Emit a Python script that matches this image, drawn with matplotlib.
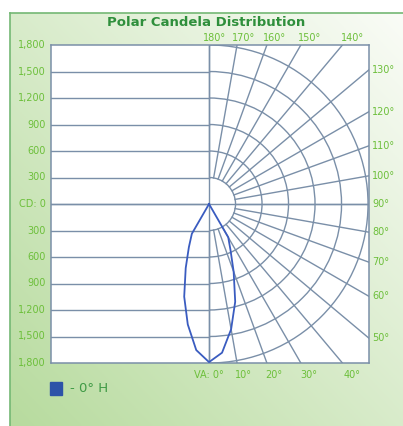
import numpy as np
import matplotlib
matplotlib.use('Agg')
import matplotlib.pyplot as plt
import matplotlib.patches as patches

# candela values per vertical angle (VA, 0 = nadir)
angles = [0, 5, 10, 15, 20, 25, 30, 35, 40, 45, 50, 55, 60, 65, 70, 75, 80, 85, 90]
cd_0h = [1790, 1690, 1440, 1145, 815, 575, 435, 0, 0, 0, 0, 0, 0, 0, 0, 0, 0, 0, 0]
cd_180h = [1790, 1660, 1385, 1086, 772, 540, 389, 0, 0, 0, 0, 0, 0, 0, 0, 0, 0, 0, 0]

cd_ticks = [1800, 1500, 1200, 900, 600, 300, 0, -300, -600, -900, -1200, -1500, -1800]
cd_labels = ['1,800', '1,500', '1,200', '900', '600', '300', 'CD: 0',
             '300', '600', '900', '1,200', '1,500', '1,800']
grid_angles = [0, 10, 20, 30, 40, 50, 60, 70, 80, 90, 100, 110, 120, 130, 140, 150, 160, 170, 180]
arc_radii = [600, 900, 1200, 1500, 1800]
series_name = '- 0° H'
title = 'Polar Candela Distribution'

W, H = 403, 426
grid_c = '#7a8fa8'
tick_c = '#6cbf3a'
line_c = '#3a5cc0'

fig = plt.figure(figsize=(W / 100, H / 100), dpi=100)
fig.patch.set_facecolor('white')

# background panel with diagonal green -> white gradient
bg = fig.add_axes([0, 0, 1, 1])
bg.set_xlim(0, W)
bg.set_ylim(H, 0)
bg.axis('off')
xx, yy = np.meshgrid(np.linspace(0, 1, 200), np.linspace(1, 0, 200))
t = np.clip((xx + yy) / 2, 0, 1)[..., None]
green = np.array([183, 219, 158]) / 255
white = np.array([250, 252, 247]) / 255
bg.imshow(green * (1 - t) + white * t, extent=(10, W, H, 13), aspect='auto')
bg.plot([10, 10], [13, H], color='#74b874', lw=1.2)
bg.plot([10, W], [13, 13], color='#74b874', lw=1.2)
bg.set_xlim(0, W)
bg.set_ylim(H, 0)

bg.text(206, 22, title, ha='center', va='center', fontsize=9.5,
        fontweight='bold', color='#2f8f3c')

# legend
bg.add_patch(patches.Rectangle((50, 382), 12, 13, color='#2d53a8'))
bg.text(70, 389, series_name, ha='left', va='center', fontsize=9.5, color='#3f9a45')

# main plot
ax = fig.add_axes([51 / W, 63 / H, 318 / W, 318 / H])
ax.set_facecolor('white')
ax.set_xlim(-1789, 1811)
ax.set_ylim(-1800, 1800)
ax.set_xticks([])
ax.set_yticks([])
for s in ax.spines.values():
    s.set_color(grid_c)
    s.set_linewidth(1.1)

# left side horizontal grid
for y in cd_ticks[1:-1]:
    ax.plot([-1789, 0], [y, y], color=grid_c, lw=1.0)
ax.axhline(0, color=grid_c, lw=1.0)
ax.axvline(0, color=grid_c, lw=1.0)

# right side polar grid
ax.add_patch(patches.Arc((0, 0), 600, 600, theta1=-90, theta2=90, color=grid_c, lw=1.0))
for r in arc_radii:
    ax.add_patch(patches.Arc((0, 0), 2 * r, 2 * r, theta1=-90, theta2=90, color=grid_c, lw=1.0))
for a in grid_angles:
    rad = np.deg2rad(a)
    ax.plot([300 * np.sin(rad), 3000 * np.sin(rad)],
            [-300 * np.cos(rad), -3000 * np.cos(rad)], color=grid_c, lw=1.0)

# candela curve (0° H on right, 180° H mirrored on left)
rad = np.deg2rad(angles)
xr = np.array(cd_0h) * np.sin(rad)
yr = -np.array(cd_0h) * np.cos(rad)
xl = -np.array(cd_180h) * np.sin(rad)
yl = -np.array(cd_180h) * np.cos(rad)
ax.plot(np.concatenate([xr[::-1], xl]), np.concatenate([yr[::-1], yl]),
        color=line_c, lw=1.3, zorder=5)

# labels
fs = 7
for y, lab in zip(cd_ticks, cd_labels):
    ax.text(-1850, y, lab, ha='right', va='center', fontsize=fs, color=tick_c)

px = 11.32
for a in grid_angles:
    if 50 <= a <= 130:
        y = -1811 / np.tan(np.deg2rad(a)) if a != 90 else 0
        ax.text(1845, y, f'{a}°', ha='left', va='center', fontsize=fs, color=tick_c)
    elif a < 50:
        x = (5 + np.tan(np.deg2rad(a)) * 165) * px
        lab = 'VA: 0°' if a == 0 else f'{a}°'
        if a == 0:
            ax.text(x + 10 * px, -1800 - 12 * px, lab, ha='right', va='center',
                    fontsize=fs, color=tick_c)
        else:
            ax.text(x, -1800 - 12 * px, lab, ha='center', va='center',
                    fontsize=fs, color=tick_c)
    else:
        x = (5 + np.tan(np.deg2rad(180 - a)) * 165) * px
        ax.text(x, 1800 + 7 * px, f'{a}°', ha='center', va='center',
                fontsize=fs, color=tick_c)

fig.savefig('out.png', dpi=100)
